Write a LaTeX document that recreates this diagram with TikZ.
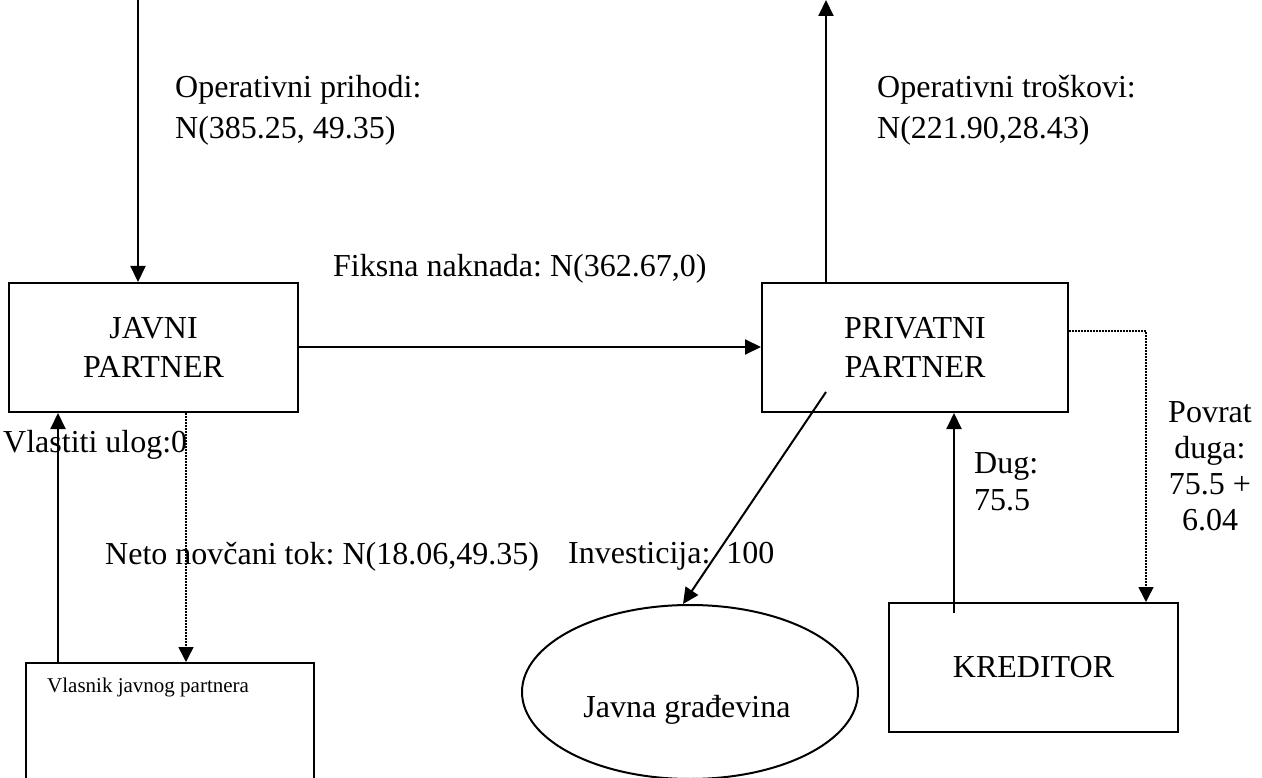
\documentclass[tikz,border=0pt]{standalone}
\usepackage{fontspec}
\setmainfont{Liberation Serif}
\usetikzlibrary{arrows.meta,shapes.geometric}
\frenchspacing
\begin{document}
\begin{tikzpicture}[x=1pt,y=-1pt,
  box/.style={draw,line width=2pt,rectangle,inner sep=0pt,align=center,
    font=\fontsize{32}{39}\selectfont},
  lbl/.style={inner sep=0pt,font=\fontsize{32}{36}\selectfont},
  lblwide/.style={inner sep=0pt,font=\fontsize{32}{41}\selectfont},
  small/.style={inner sep=0pt,font=\fontsize{21}{25}\selectfont},
  flow/.style={line width=2pt,-{Triangle[length=16pt,width=15pt]}},
  dflow/.style={line width=1.5pt,dash pattern=on 1.5pt off 1.5pt,
    -{Triangle[length=15pt,width=15pt]}}]
\useasboundingbox (0,0) rectangle (1262,778);

% boxes
\node[box,minimum width=289pt,minimum height=129pt] (javni) at (153.5,347.5) {JAVNI\\PARTNER};
\node[box,minimum width=306pt,minimum height=129pt] (privatni) at (915,347.5) {PRIVATNI\\PARTNER};
\node[box,minimum width=289pt,minimum height=129pt] (kreditor) at (1033.5,667.5) {KREDITOR};
\node[box,minimum width=288pt,minimum height=140pt] (vlasnik) at (170,733) {};
\node[small,anchor=north west] (vlasnikTxt) at (47,678) {Vlasnik javnog partnera};
\node[draw,ellipse,line width=2pt,minimum width=336pt,minimum height=174pt,inner sep=0pt] (gradj) at (690,692) {};
\node[lbl,anchor=base] (gradjTxt) at (687,717) {Javna građevina};

% free ends
\coordinate (topL) at (138,0);
\coordinate (topR) at (826,0);

% connectors
\draw[flow] (topL) -- (javni.north -| topL);
\draw[flow] (privatni.north -| topR) -- (topR);
\draw[flow] (javni.east |- 0,347) -- (privatni.west |- 0,347);
\draw[flow] (vlasnik.north -| 58,0) -- (javni.south -| 58,0);
\draw[dflow] (javni.south -| 186,0) -- (vlasnik.north -| 186,0);
\draw[flow] (826,392) -- (gradj.north -| 683,0);
\draw[flow] (954,613) -- (privatni.south -| 954,0);
\draw[dflow] (privatni.east |- 0,331) -| (kreditor.north -| 1146,0);

% labels
\node[lblwide,anchor=north west,align=left] (opPrih) at (175,75) {Operativni prihodi:\\N(385.25, 49.35)};
\node[lblwide,anchor=north west,align=left] (opTros) at (877,75) {Operativni troškovi:\\N(221.90,28.43)};
\node[lbl,anchor=north west] (fiks) at (333,254) {Fiksna naknada: N(362.67,0)};
\node[lbl,anchor=north west] (ulog) at (3,430) {Vlastiti ulog:0};
\node[lbl,anchor=north west] (neto) at (105,542) {Neto novčani tok: N(18.06,49.35)};
\node[lbl,anchor=north west] (inv) at (568,542) {Investicija:\ \ 100};
\node[lbl,anchor=north west,align=left,font=\fontsize{32}{37}\selectfont] (dug) at (974,452) {Dug:\\75.5};
\node[lbl,anchor=north,align=center] (povrat) at (1210,401) {Povrat\\duga:\\75.5 +\\6.04};
\end{tikzpicture}
\end{document}
